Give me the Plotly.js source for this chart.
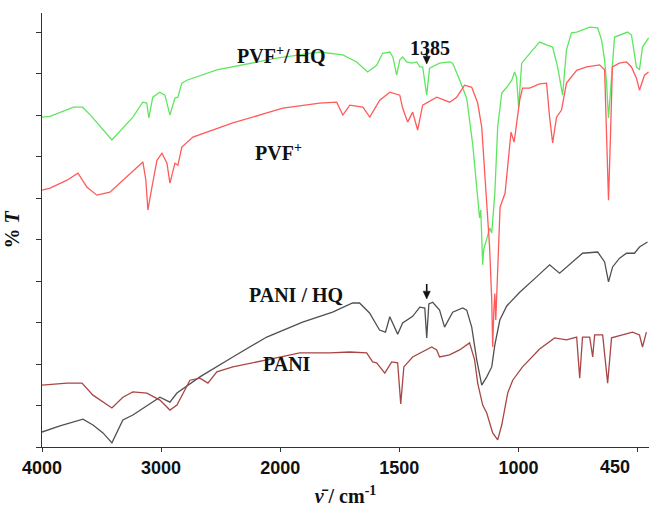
<!DOCTYPE html>
<html>
<head>
<meta charset="utf-8">
<script src="https://cdn.plot.ly/plotly-3.0.1.min.js"></script>
<style>html,body{margin:0;padding:0;background:#fff;}#chart{width:649px;height:515px;}</style>
</head>
<body>
<div id="chart"></div>
<script>
// Wavenumbers (cm^-1) and %T values (arbitrary offset units)
const pvfHqWn = [4000,3933,3735,3660,3593,3413,3237,3154,3120,3103,3070,3011,2968,2926,2884,2859,2826,2784,2532,2255,2029,1918,1834,1737,1679,1633,1595,1570,1540,1527,1511,1498,1486,1469,1448,1427,1414,1402,1385,1373,1331,1289,1276,1247,1217,1192,1171,1163,1158,1150,1146,1133,1120,1112,1099,1087,1070,1049,1028,1016,1008,999,985,934,902,870,842,819,796,778,755,731,671,634,616,602,593,584,570,556,496,478,455,441,427,399];
const pvfHqT  = [79.5,79.7,81.9,81.9,80.0,74.0,79.5,83.1,82.9,79.3,84.3,85.5,84.8,80.0,84.1,84.3,87.7,88.4,90.9,92.5,93.7,94.5,95.2,94.5,92.8,90.4,92.0,94.9,95.2,94.0,89.6,93.3,94.0,92.8,92.5,92.8,91.6,91.6,84.8,91.3,92.5,92.8,92.5,88.5,84.0,73.0,61.0,55.2,57.1,43.9,47.5,49.9,52.8,51.6,61.2,77.1,85.3,86.7,88.4,90.4,89.1,81.9,92.5,95.7,97.6,96.9,96.4,91.6,84.8,95.7,99.8,100.0,101.2,101.0,98.1,93.3,87.7,79.3,89.2,98.8,100.0,99.3,91.6,90.9,96.4,98.6];

const pvfWn = [4000,3933,3790,3698,3622,3539,3430,3346,3153,3128,3111,3077,3035,2993,2951,2926,2884,2859,2826,2733,2398,2113,1989,1834,1763,1737,1708,1653,1624,1582,1540,1498,1486,1465,1444,1423,1402,1343,1289,1259,1226,1196,1171,1154,1142,1133,1121,1112,1108,1103,1099,1095,1086,1077,1056,1043,1031,1018,1013,994,981,948,902,870,856,842,824,801,778,731,685,625,602,593,584,575,566,534,501,478,455,441,418,399];
const pvfT  = [61.9,62.4,64.3,66.0,62.6,60.7,61.4,63.6,68.7,64.3,57.1,62.6,69.1,70.8,68.4,63.6,68.4,67.9,72.3,74.7,78.1,80.5,81.7,82.9,83.1,80.0,82.4,81.9,79.5,83.6,85.5,84.8,81.7,78.3,80.7,76.4,82.4,84.3,83.1,84.3,87.2,86.7,82.9,77.1,67.5,57.8,48.2,35.4,24.1,33.0,37.0,30.6,46.3,57.8,61.2,69.9,75.9,73.5,75.9,83.6,86.5,86.5,87.5,87.7,79.5,73.3,79.5,81.2,87.7,90.8,91.6,92.1,90.9,74.0,59.5,74.7,91.6,92.5,92.8,91.6,88.9,86.0,89.6,90.4];

const paniHqWn = [4000,3849,3656,3572,3488,3413,3321,3237,3010,2926,2867,2674,2398,2113,1906,1780,1696,1667,1625,1583,1558,1540,1507,1486,1444,1414,1393,1385,1376,1360,1331,1310,1276,1234,1217,1196,1175,1154,1133,1112,1099,1078,1049,994,916,856,810,750,704,634,602,584,565,533,501,464,441,404];
const paniHqT  = [3.6,5.1,6.7,5.3,3.4,1.0,6.5,7.7,12.0,10.8,13.0,16.9,21.7,26.5,30.1,32.5,34.7,34.7,32.3,28.2,27.7,31.4,27.2,29.9,31.5,33.7,33.5,26.3,34.5,34.9,33.0,28.9,32.5,33.5,33.0,28.9,21.0,14.9,16.9,19.3,24.6,30.6,34.0,37.3,41.0,43.9,41.9,44.6,46.7,47.0,44.6,39.8,43.4,45.5,46.7,46.7,48.2,49.4];

const paniWn = [4000,3790,3664,3572,3413,3321,3237,3119,3010,2926,2867,2758,2674,2607,2532,2398,2113,1918,1792,1708,1637,1612,1595,1561,1532,1507,1494,1481,1444,1402,1364,1343,1331,1289,1247,1205,1184,1171,1150,1133,1108,1087,1070,1045,1024,981,902,833,778,731,717,704,671,657,648,611,588,570,519,473,441,427,409];
const paniT  = [14.9,15.4,15.4,12.5,9.4,12.0,13.3,13.0,11.3,8.9,10.1,16.1,16.6,15.4,18.1,19.3,21.0,22.7,22.7,22.9,22.7,20.5,20.3,17.8,20.5,20.3,10.4,19.3,21.7,22.9,24.1,23.4,21.7,22.2,23.4,25.1,21.0,15.4,10.1,8.2,3.4,1.7,5.3,13.0,16.1,19.3,23.6,26.3,25.8,26.5,16.6,26.5,26.5,21.7,27.0,27.0,15.4,26.3,27.0,27.7,27.0,24.1,27.7];

const tickWn = [4000,3000,2000,1500,1000,450];
const tickText = ["4000","3000","2000","1500","1000","450"];
const markedWn = 1385;

// Piecewise axis scale of the original figure (equal spacing between labelled ticks)
function xmap(w){
  for (let i=0;i<tickWn.length-1;i++){
    const a=tickWn[i], b=tickWn[i+1];
    if (w>=b || i===tickWn.length-2){ return i + (a-w)/(a-b); }
  }
}
const X = arr => arr.map(xmap);
const nMain = tickWn.length-1;

const traces = [
  {x:X(pvfHqWn), y:pvfHqT, mode:'lines', line:{color:'#5fe65f', width:1.3}, name:'PVF+/HQ'},
  {x:X(pvfWn), y:pvfT, mode:'lines', line:{color:'#ff5a5a', width:1.3}, name:'PVF+'},
  {x:X(paniHqWn), y:paniHqT, mode:'lines', line:{color:'#505050', width:1.3}, name:'PANI/HQ'},
  {x:X(paniWn), y:paniT, mode:'lines', line:{color:'#a84646', width:1.3}, name:'PANI'}
];

// arrow helper (x in data units, y in paper units)
function arrow(xd, yTail, yTip){
  const hw = 0.03, hh = 0.018;
  return [
    {type:'line', xref:'x', yref:'paper', x0:xd, x1:xd, y0:yTail, y1:yTip+hh, line:{color:'#111', width:1.6}},
    {type:'path', xref:'x', yref:'paper', path:`M ${xd-hw},${yTip+hh} L ${xd+hw},${yTip+hh} L ${xd},${yTip} Z`, fillcolor:'#111', line:{color:'#111', width:0.5}}
  ];
}

const tickFont = {family:'"Liberation Sans", Arial, sans-serif', size:18, color:'#111', weight:'bold'};
const lblFont = {family:'"Liberation Serif", "Times New Roman", serif', size:20, color:'#111'};
const layout = {
  width:649, height:515,
  margin:{l:42, r:0, t:13, b:68},
  paper_bgcolor:'#fff', plot_bgcolor:'#fff',
  showlegend:false,
  xaxis:{
    range:[0, xmap(397)], tickmode:'array',
    tickvals:X(tickWn.slice(0,nMain)), ticktext:tickText.slice(0,nMain),
    ticks:'outside', ticklen:4, tickcolor:'#333', showline:true, linecolor:'#333', linewidth:1.2,
    minor:{tickmode:'array', tickvals:X(tickWn.slice(nMain)), ticks:'outside', ticklen:4, tickcolor:'#333', showgrid:false},
    showgrid:false, zeroline:false,
    tickfont:tickFont,
    title:{text:'<b><i>ν̄</i> / cm<sup>-1</sup></b>', standoff:12,
      font:{family:'"Liberation Serif", "Times New Roman", serif', size:20, color:'#111'}}
  },
  yaxis:{
    range:[0,104.6], dtick:10, tick0:0, showticklabels:false,
    ticks:'outside', ticklen:5, tickcolor:'#333', showline:true, linecolor:'#333', linewidth:1.2,
    showgrid:false, zeroline:false,
    title:{text:'<b>% <i>T</i></b>', standoff:10,
      font:{family:'"Liberation Serif", "Times New Roman", serif', size:20, color:'#111'}}
  },
  annotations:[
    {xref:'paper', yref:'paper', x:0.972, y:-0.047, yanchor:'middle', text:tickText[nMain], showarrow:false, font:tickFont},
    {xref:'paper', yref:'paper', x:0.394, y:0.935, text:'<b>PVF<sup>+</sup>/ HQ</b>', showarrow:false, font:lblFont},
    {xref:'paper', yref:'paper', x:0.639, y:0.949, text:'<b>1385</b>', showarrow:false, font:lblFont},
    {xref:'paper', yref:'paper', x:0.389, y:0.713, text:'<b>PVF<sup>+</sup></b>', showarrow:false, font:lblFont},
    {xref:'paper', yref:'paper', x:0.418, y:0.350, text:'<b>PANI / HQ</b>', showarrow:false, font:lblFont},
    {xref:'paper', yref:'paper', x:0.404, y:0.161, text:'<b>PANI</b>', showarrow:false, font:lblFont}
  ],
  shapes:[
    ...arrow(xmap(markedWn), (447-49)/434, (447-64)/434),
    ...arrow(xmap(markedWn), (447-284)/434, (447-299)/434)
  ]
};

Plotly.newPlot('chart', traces, layout, {displayModeBar:false, staticPlot:true});
</script>
</body>
</html>
